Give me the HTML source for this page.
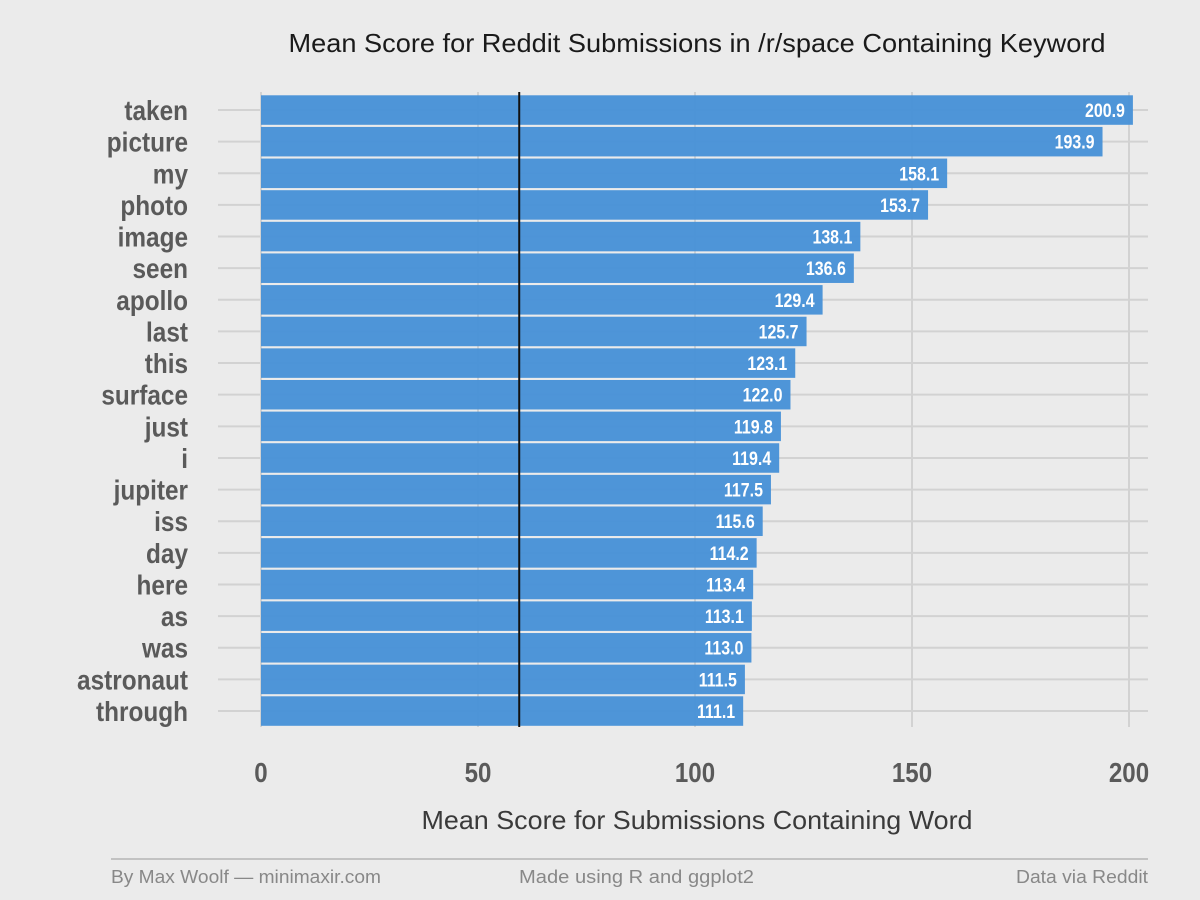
<!DOCTYPE html>
<html><head><meta charset="utf-8"><style>
body{margin:0;background:#ebebeb;}
svg{display:block;font-family:"Liberation Sans",sans-serif;}
</style></head><body>
<svg id="chart" width="1200" height="900" viewBox="0 0 1200 900" xmlns="http://www.w3.org/2000/svg">
<rect width="1200" height="900" fill="#ebebeb"/>
<text x="697" y="52" text-anchor="middle" font-size="26" fill="#1a1a1a" textLength="817" lengthAdjust="spacingAndGlyphs">Mean Score for Reddit Submissions in /r/space Containing Keyword</text>
<g id="grid"></g><g id="bars"></g><g id="labels"></g>
<text x="697" y="829" text-anchor="middle" font-size="26" fill="#3a3a3a" textLength="551" lengthAdjust="spacingAndGlyphs">Mean Score for Submissions Containing Word</text>
<line x1="111" y1="859" x2="1148" y2="859" stroke="#aaa" stroke-width="1.2"/>
<text x="111" y="883" font-size="18" fill="#888" textLength="270" lengthAdjust="spacingAndGlyphs">By Max Woolf — minimaxir.com</text>
<text x="519" y="883" font-size="18" fill="#888" textLength="235" lengthAdjust="spacingAndGlyphs">Made using R and ggplot2</text>
<text x="1016" y="883" font-size="18" fill="#888" textLength="132" lengthAdjust="spacingAndGlyphs">Data via Reddit</text>
</svg>
<script>
const categories=["taken","picture","my","photo","image","seen","apollo","last","this","surface","just","i","jupiter","iss","day","here","as","was","astronaut","through"];
const values=[200.9,193.9,158.1,153.7,138.1,136.6,129.4,125.7,123.1,122.0,119.8,119.4,117.5,115.6,114.2,113.4,113.1,113.0,111.5,111.1];
const xTicks=[0,50,100,150,200];
const meanLine=[59.5];
const NS="http://www.w3.org/2000/svg";
const x=v=>261+v*(1129-261)/200;
const y=i=>110+i*(711-110)/19;
function mk(t,a,p){const e=document.createElementNS(NS,t);for(const k in a)e.setAttribute(k,a[k]);p.appendChild(e);return e;}
const grid=document.getElementById('grid'),bars=document.getElementById('bars'),labels=document.getElementById('labels');
categories.forEach((c,i)=>{
 const g=mk('line',{x1:218,x2:1148,y1:y(i),y2:y(i),stroke:'#d2d2d2','stroke-width':2},grid);
 
 
 const t=mk('text',{x:0,y:0,transform:`translate(188,${y(i)+10}) scale(0.87,1)`,'text-anchor':'end','font-size':28,'font-weight':'bold',fill:'#5a5a5a'},labels);
 t.textContent=c;
 
 
});
xTicks.forEach(v=>{
 const g=mk('line',{x1:x(v),x2:x(v),y1:92,y2:727,stroke:'#d2d2d2','stroke-width':2},grid);
 
 
 const t=mk('text',{x:0,y:0,transform:`translate(${x(v)},782) scale(0.86,1)`,'text-anchor':'middle','font-size':28,'font-weight':'bold',fill:'#5a5a5a'},labels);
 t.textContent=v;
 
 
});
values.forEach((v,i)=>{
 const r=mk('rect',{x:x(0),y:y(i)-14.7,width:x(v)-x(0),height:29.5,fill:'#4690d7','fill-opacity':0.95},bars);
 
 
 const t=mk('text',{x:0,y:0,transform:`translate(${x(v)-8},${y(i)+7}) scale(0.84,1)`,'text-anchor':'end','font-size':19,'font-weight':'bold',fill:'#fff'},labels);
 t.textContent=v.toFixed(1);
 
 
});
const ml=mk('line',{x1:x(meanLine[0]),x2:x(meanLine[0]),y1:92,y2:727,stroke:'#111','stroke-width':2},labels);


</script>
</body></html>
